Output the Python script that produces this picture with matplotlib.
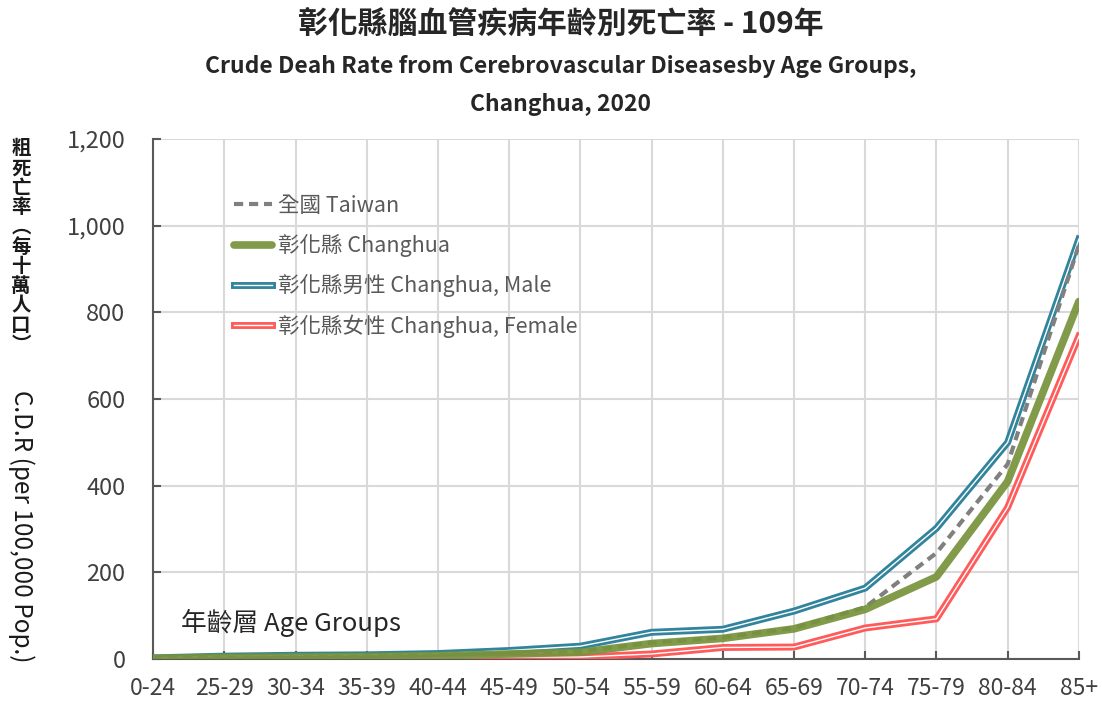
import matplotlib
matplotlib.use("Agg")
import matplotlib.pyplot as plt
import matplotlib.patheffects as pe

plt.rcParams['font.family'] = ['Noto Sans CJK TC', 'DejaVu Sans']

age_groups = ["0-24", "25-29", "30-34", "35-39", "40-44", "45-49", "50-54",
              "55-59", "60-64", "65-69", "70-74", "75-79", "80-84", "85+"]
taiwan = [2, 3, 4, 6, 9, 14, 18, 38, 50, 72, 120, 245, 450, 955]
changhua = [2, 4, 5, 6, 8, 12, 16, 36, 48, 70, 115, 190, 410, 825]
male = [3, 7, 9, 10, 13, 20, 30, 62, 69, 111, 164, 302, 500, 969]
female = [1, 2, 2, 3, 4, 5, 5, 12, 27, 28, 72, 93, 350, 745]

teal = "#31849B"
red = "#FF5B5B"
green = "#77933C"
gray = "#808080"

fig = plt.figure(figsize=(11.02, 7.02), dpi=100)
ax = fig.add_axes([0.139, 0.061, 0.840, 0.741])

x = range(len(age_groups))

ax.plot(x, female, color="white", lw=1.0, zorder=3, label="彰化縣女性 Changhua, Female",
        path_effects=[pe.Stroke(linewidth=5, foreground=red), pe.Normal()])
ax.plot(x, male, color="white", lw=1.0, zorder=4, label="彰化縣男性 Changhua, Male",
        path_effects=[pe.Stroke(linewidth=5, foreground=teal), pe.Normal()])
ax.plot(x, taiwan, color=gray, lw=3, dashes=(2.2, 1.4), zorder=5, label="全國 Taiwan")
ax.plot(x, changhua, color=green, lw=5.5, alpha=0.92, zorder=6, label="彰化縣 Changhua",
        solid_capstyle="round")

ax.set_xlim(0, len(age_groups) - 1)
ax.set_ylim(0, 1200)
ax.set_xticks(list(x))
ax.set_xticklabels(age_groups, fontsize=16.5, color="#404040")
ax.set_yticks(range(0, 1201, 200))
ax.set_yticklabels([f"{v:,}" for v in range(0, 1201, 200)], fontsize=17, color="#404040")
ax.tick_params(axis="both", direction="in", length=6, color="#595959", width=1.5)
ax.tick_params(axis="x", pad=13)
ax.tick_params(axis="y", pad=20)
ax.grid(True, color="#D9D9D9", lw=1.5)
ax.set_axisbelow(True)
for s in ["top", "right"]:
    ax.spines[s].set_visible(False)
for s in ["left", "bottom"]:
    ax.spines[s].set_color("#595959")
    ax.spines[s].set_linewidth(1.5)

handles, labels = ax.get_legend_handles_labels()
order = [2, 3, 1, 0]
leg = ax.legend([handles[i] for i in order], [labels[i] for i in order],
                loc="upper left", bbox_to_anchor=(0.066, 0.93), frameon=False,
                fontsize=15.5, handlelength=1.8, handletextpad=0.25, labelspacing=0.8,
                labelcolor="#595959")

ax.text(0.03, 0.069, "年齡層 Age Groups", transform=ax.transAxes, fontsize=18.5,
        color="#262626", va="center")

fig.text(0.509, 0.966, "彰化縣腦血管疾病年齡別死亡率 - 109年", ha="center", va="center",
         fontsize=21.5, fontweight="bold", color="#262626")
fig.text(0.509, 0.905, "Crude Deah Rate from Cerebrovascular Diseasesby Age Groups,",
         ha="center", va="center", fontsize=16.5, fontweight="bold", color="#262626")
fig.text(0.509, 0.851, "Changhua, 2020", ha="center", va="center", fontsize=16.5,
         fontweight="bold", color="#262626")

# vertical Chinese part of the y label, one glyph per row
ylab_cjk = list("粗死亡率") + ["︵"] + list("每十萬人口") + ["︶"]
for i, ch in enumerate(ylab_cjk):
    fig.text(0.019, 1 - (149 + i * 19.6) / 702, ch, ha="center", va="center",
             fontsize=14, color="#1a1a1a", fontweight="bold")
fig.text(0.019, 1 - 526 / 702, "C.D.R (per 100,000 Pop.)", ha="center", va="center",
         rotation=-90, fontsize=17.5, color="#1a1a1a")

fig.savefig("out.png", dpi=100)
